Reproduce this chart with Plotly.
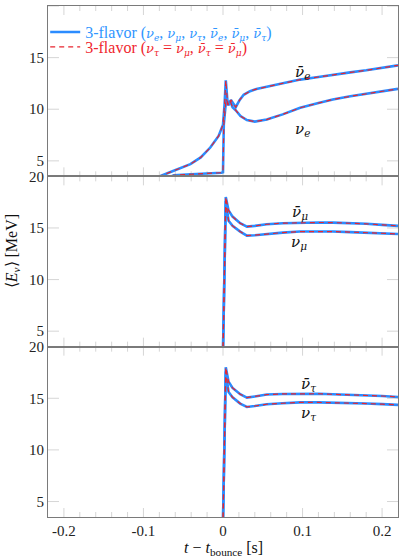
import plotly.graph_objects as go
from plotly.subplots import make_subplots

# ---- data ----
t_nue = [-0.080, -0.078, -0.062, -0.041, -0.028, -0.016, -0.0055, 0.0, 0.002, 0.0035, 0.006, 0.009, 0.012,
         0.016, 0.022, 0.030, 0.040, 0.055, 0.075, 0.097, 0.120, 0.138, 0.160, 0.180, 0.200, 0.220]
E_nue = [3.3, 3.55, 4.04, 4.68, 5.33, 6.29, 7.41, 8.5, 10.5, 12.8, 10.4, 10.8, 10.2,
         9.9, 9.34, 8.95, 8.8, 9.0, 9.5, 10.14, 10.6, 10.94, 11.25, 11.5, 11.75, 11.97]

t_anue = [-0.065, -0.062, -0.040, -0.020, -0.002, 0.0, 0.001, 0.004, 0.007, 0.010, 0.013, 0.016,
          0.021, 0.026, 0.034, 0.042, 0.055, 0.075, 0.097, 0.120, 0.138, 0.160, 0.180, 0.200, 0.220]
E_anue = [3.5, 3.6, 3.7, 3.75, 3.85, 3.9, 8.5, 11.0, 10.4, 10.9, 10.6, 10.2,
          10.9, 11.4, 11.75, 11.95, 12.17, 12.5, 12.87, 13.12, 13.35, 13.57, 13.77, 13.98, 14.25]

t_heavy = [-0.22, -0.1, 0.0, 0.0035, 0.007, 0.012, 0.0216, 0.030, 0.040, 0.055, 0.075, 0.097, 0.120,
           0.138, 0.160, 0.180, 0.200, 0.220]
E_numu = [2.0, 2.4, 3.0, 17.6, 15.7, 15.2, 14.65, 14.26, 14.3, 14.42, 14.55, 14.65, 14.66,
          14.65, 14.6, 14.55, 14.5, 14.42]
E_anumu = [2.0, 2.4, 3.0, 18.0, 16.7, 16.1, 15.46, 15.13, 15.2, 15.36, 15.46, 15.52, 15.53,
           15.52, 15.47, 15.4, 15.3, 15.2]
E_nutau = [2.0, 2.4, 3.0, 17.6, 15.6, 15.1, 14.49, 14.16, 14.25, 14.42, 14.52, 14.6, 14.6,
           14.58, 14.54, 14.49, 14.43, 14.36]
E_anutau = [2.0, 2.4, 3.0, 18.0, 16.6, 16.0, 15.39, 15.07, 15.18, 15.36, 15.42, 15.46, 15.44,
            15.39, 15.35, 15.3, 15.22, 15.13]

x_ticks = [-0.2, -0.1, 0, 0.1, 0.2]
x_ticklabels = ["-0.2", "-0.1", "0", "0.1", "0.2"]
x_minor_ticks = [-0.18, -0.16, -0.14, -0.12, -0.08, -0.06, -0.04, -0.02,
                 0.02, 0.04, 0.06, 0.08, 0.12, 0.14, 0.16, 0.18]
y_ticks = [5, 10, 15, 20]

BLUE = "#2b8cff"
RED = "#e8252f"
GRAY = "#7a7a7a"
FONT = "Liberation Serif"
GFONT = "DejaVu Serif"


def g(s):
    return "<span style='font-family:DejaVu Serif;font-size:13px'><i>%s</i></span>" % s


name_full = ("<span style='color:#3096ff'>3-flavor (" + g("ν<sub>e</sub>") + ", " + g("ν<sub>μ</sub>") + ", "
             + g("ν<sub>τ</sub>") + ", " + g("ν̄<sub>e</sub>") + ", " + g("ν̄<sub>μ</sub>") + ", "
             + g("ν̄<sub>τ</sub>") + ")</span>")
name_red = ("<span style='color:#f0262e'>3-flavor (" + g("ν<sub>τ</sub>") + " = " + g("ν<sub>μ</sub>") + ", "
            + g("ν̄<sub>τ</sub>") + " = " + g("ν̄<sub>μ</sub>") + ")</span>")

fig = make_subplots(rows=3, cols=1, shared_xaxes=False, vertical_spacing=0)

panels = [
    (1, (t_nue, E_nue), (t_anue, E_anue)),
    (2, (t_heavy, E_numu), (t_heavy, E_anumu)),
    (3, (t_heavy, E_nutau), (t_heavy, E_anutau)),
]
for row, s1, s2 in panels:
    for k, (tx, ey) in enumerate([s1, s2]):
        fig.add_trace(go.Scatter(x=tx, y=ey, mode="lines", line=dict(color=BLUE, width=2.6),
                                 name=name_full, legend="legend",
                                 showlegend=(row == 1 and k == 0)), row=row, col=1)
    for k, (tx, ey) in enumerate([s1, s2]):
        fig.add_trace(go.Scatter(x=tx, y=ey, mode="lines", line=dict(color=RED, width=1.2, dash="5px,4px"),
                                 name=name_red, legend="legend2",
                                 showlegend=(row == 1 and k == 0)), row=row, col=1)

for r in (1, 2, 3):
    fig.update_xaxes(row=r, col=1, range=[-0.22, 0.22], tickvals=x_ticks, ticktext=x_ticklabels,
                     ticks="", showline=True, linecolor=GRAY, linewidth=1, mirror=True,
                     showgrid=False, zeroline=False,
                     showticklabels=(r == 3), tickfont=dict(family=FONT, size=15, color="#222"))
    fig.update_yaxes(row=r, col=1, range=[3.5, 20], tickvals=y_ticks,
                     ticks="", showline=True, linecolor=GRAY, linewidth=1, mirror=True,
                     showgrid=False, zeroline=False,
                     tickfont=dict(family=FONT, size=15, color="#222"))

# tick marks drawn on the axes' own scales (inside, on all four sides of each panel)
tick_line = dict(color=GRAY, width=1)
for r in (1, 2, 3):
    xr = "x" if r == 1 else "x%d" % r
    yr = "y" if r == 1 else "y%d" % r
    for vals, L in ((x_ticks, 9), (x_minor_ticks, 5)):
        for v in vals:
            fig.add_shape(type="line", xref=xr, yref=yr + " domain", x0=v, x1=v,
                          ysizemode="pixel", yanchor=0, y0=0, y1=L, line=tick_line, layer="above")
            fig.add_shape(type="line", xref=xr, yref=yr + " domain", x0=v, x1=v,
                          ysizemode="pixel", yanchor=1, y0=0, y1=-L, line=tick_line, layer="above")
    for w in y_ticks:
        fig.add_shape(type="line", xref=xr + " domain", yref=yr, y0=w, y1=w,
                      xsizemode="pixel", xanchor=0, x0=0, x1=11, line=tick_line, layer="above")
        fig.add_shape(type="line", xref=xr + " domain", yref=yr, y0=w, y1=w,
                      xsizemode="pixel", xanchor=1, x0=0, x1=-11, line=tick_line, layer="above")

labels = [
    ("x", "y", 0.100, 13.6, "<i>ν̄<sub>e</sub></i>"),
    ("x", "y", 0.100, 8.0, "<i>ν<sub>e</sub></i>"),
    ("x2", "y2", 0.097, 16.5, "<i>ν̄<sub>μ</sub></i>"),
    ("x2", "y2", 0.095, 13.6, "<i>ν<sub>μ</sub></i>"),
    ("x3", "y3", 0.107, 16.3, "<i>ν̄<sub>τ</sub></i>"),
    ("x3", "y3", 0.107, 13.5, "<i>ν<sub>τ</sub></i>"),
]
for xr, yr, xv, yv, txt in labels:
    fig.add_annotation(x=xv, y=yv, xref=xr, yref=yr, text=txt, showarrow=False,
                       font=dict(family=GFONT, size=15, color="#111"))

fig.add_annotation(xref="paper", yref="paper", x=0.5, y=-0.062, yanchor="middle",
                   text="<i>t</i> − <i>t</i><sub>bounce</sub> [s]", showarrow=False,
                   font=dict(family=FONT, size=16, color="#111"))
fig.add_annotation(xref="paper", yref="paper", x=-0.103, y=0.52, xanchor="center", yanchor="middle",
                   textangle=-90,
                   text="⟨<i>E<sub>ν</sub></i>⟩ [MeV]", showarrow=False,
                   font=dict(family=FONT, size=16, color="#111"))

leg_common = dict(xanchor="left", yanchor="middle", bgcolor="rgba(0,0,0,0)",
                  font=dict(family=FONT, size=16), itemwidth=30)
fig.update_layout(
    template="simple_white",
    width=399, height=558,
    margin=dict(l=48, r=1, t=6, b=41, autoexpand=False),
    plot_bgcolor="white", paper_bgcolor="white",
    font=dict(family=FONT, size=15, color="#222"),
    legend=dict(x=-0.008, y=0.949, **leg_common),
    legend2=dict(x=-0.008, y=0.920, **leg_common),
)

fig.write_html("out.html", config={"displayModeBar": False},
               post_script="document.body.style.margin='0';document.body.style.overflow='hidden';")
